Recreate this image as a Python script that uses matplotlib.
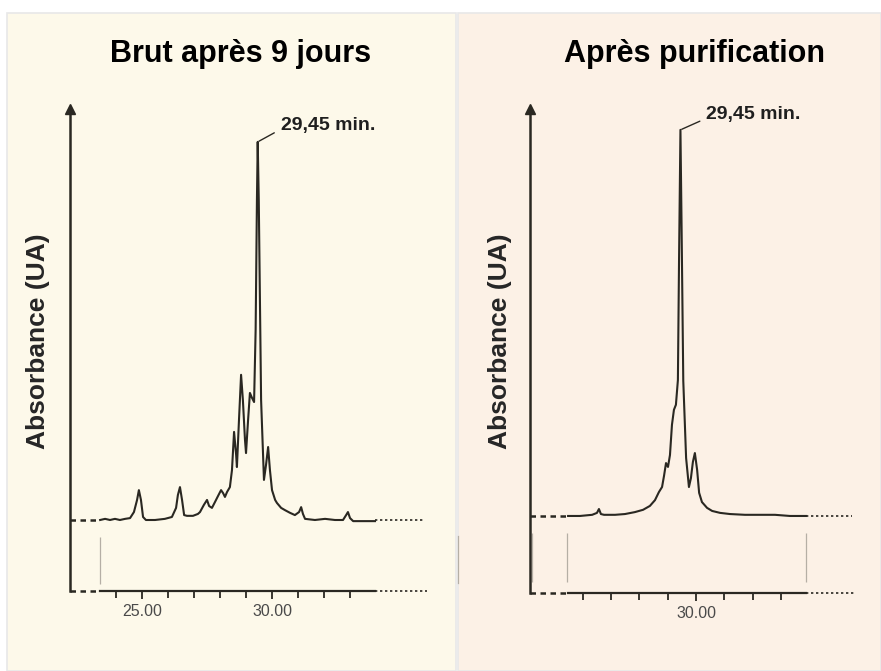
import matplotlib
matplotlib.use('Agg')
import matplotlib.pyplot as plt
from matplotlib.patches import Rectangle
from matplotlib.lines import Line2D

plt.rcParams['font.family'] = ['Liberation Sans', 'DejaVu Sans']

# crude product after 9 days: retention time (min) / absorbance (normalised)
t_brut = [23.39, 23.58, 23.77, 23.96, 24.15, 24.35, 24.54, 24.69, 24.81, 24.88,
          24.96, 25.04, 25.15, 25.50, 25.88, 26.15, 26.31, 26.38, 26.46, 26.54,
          26.62, 26.73, 26.96, 27.15, 27.23, 27.38, 27.50, 27.58, 27.69, 27.81,
          27.92, 28.04, 28.12, 28.19, 28.27, 28.38, 28.46, 28.54, 28.62, 28.65,
          28.73, 28.81, 28.88, 28.96, 29.00, 29.08, 29.15, 29.23, 29.31, 29.37,
          29.42, 29.45, 29.49, 29.58, 29.69, 29.77, 29.85, 29.92, 30.00, 30.12,
          30.19, 30.35, 30.50, 30.69, 30.88, 31.04, 31.12, 31.19, 31.27, 31.65,
          32.04, 32.42, 32.73, 32.85, 32.92, 33.00, 33.12, 33.58, 33.96]
a_brut = [0.000, 0.003, 0.000, 0.003, 0.000, 0.003, 0.005, 0.021, 0.053, 0.079,
          0.053, 0.008, 0.000, 0.000, 0.003, 0.008, 0.032, 0.066, 0.087, 0.053,
          0.013, 0.011, 0.011, 0.016, 0.021, 0.040, 0.053, 0.037, 0.032, 0.048,
          0.063, 0.079, 0.071, 0.061, 0.074, 0.087, 0.132, 0.233, 0.172, 0.140,
          0.265, 0.384, 0.317, 0.212, 0.177, 0.265, 0.336, 0.323, 0.312, 0.503,
          0.847, 1.000, 0.847, 0.317, 0.106, 0.146, 0.193, 0.132, 0.079, 0.053,
          0.045, 0.032, 0.026, 0.019, 0.013, 0.021, 0.034, 0.016, 0.003, 0.000,
          0.003, 0.000, 0.000, 0.013, 0.021, 0.005, -0.003, -0.003, -0.003]

# purified product
t_pur = [25.48, 25.90, 26.33, 26.50, 26.57, 26.64, 26.75, 27.14, 27.49, 27.84,
         28.13, 28.37, 28.55, 28.69, 28.80, 28.87, 28.94, 29.01, 29.08, 29.15,
         29.22, 29.29, 29.36, 29.40, 29.45, 29.49, 29.55, 29.65, 29.75, 29.82,
         29.89, 29.96, 30.04, 30.11, 30.21, 30.39, 30.57, 30.85, 31.20, 31.73,
         32.26, 32.79, 33.32, 33.89]
a_pur = [0.000, 0.000, 0.003, 0.008, 0.018, 0.005, 0.003, 0.003, 0.005, 0.010,
         0.016, 0.026, 0.041, 0.062, 0.075, 0.104, 0.137, 0.127, 0.158, 0.236,
         0.275, 0.288, 0.352, 0.660, 1.000, 0.750, 0.350, 0.150, 0.075, 0.098,
         0.140, 0.163, 0.119, 0.060, 0.036, 0.021, 0.013, 0.008, 0.005, 0.003,
         0.003, 0.003, 0.000, 0.000]

titles = ['Brut après 9 jours', 'Après purification']
ylabel = 'Absorbance (UA)'
peak_time = 29.45
peak_label = '29,45 min.'
ticks_brut = [24, 25, 26, 27, 28, 29, 30, 31, 32, 33]
ticks_pur = [26, 27, 28, 29, 30, 31, 32, 33]
labelled_brut = [25, 30]
labelled_pur = [30]

W, H = 881, 671
ink = '#2a2822'
fig = plt.figure(figsize=(W / 100, H / 100), dpi=100)
fig.patch.set_facecolor('white')


def fx(x):
    return x / W


def fy(y):
    return 1 - y / H


# background panels
fig.add_artist(Rectangle((fx(7), 0), fx(456) - fx(7), fy(13), transform=fig.transFigure,
                         facecolor='#fdf9ea', edgecolor='#e8e8e8', lw=1.2, zorder=0))
fig.add_artist(Rectangle((fx(458), 0), 1 - fx(458), fy(13), transform=fig.transFigure,
                         facecolor='#fcf1e6', edgecolor='#e8e8e8', lw=1.2, zorder=0))
fig.add_artist(Line2D([fx(458), fx(458)], [fy(536), fy(583)], transform=fig.transFigure,
                      color='#b5afa5', lw=0.9))


def chromato(box, xlim, ylim, t, a, ticks, labelled, base_end, bot_end, marks, text_off):
    x0, x1, ytop, ybot = box
    ax = fig.add_axes([fx(x0), fy(ybot), fx(x1) - fx(x0), fy(ytop) - fy(ybot)])
    ax.set_facecolor('none')
    ax.set_xlim(xlim)
    ax.set_ylim(ylim)

    ax.plot(t, a, color=ink, lw=1.5, solid_joinstyle='round', clip_on=False)

    # axes: solid under the trace, dashed / dotted extensions
    for s in ['top', 'right']:
        ax.spines[s].set_visible(False)
    ax.spines['left'].set_linewidth(1.8)
    ax.spines['left'].set_color(ink)
    ax.spines['bottom'].set_linewidth(1.6)
    ax.spines['bottom'].set_color(ink)
    ax.spines['bottom'].set_bounds(t[0], t[-1])
    ax.plot([0], [1], marker='^', ms=7, color=ink, transform=ax.transAxes, clip_on=False)

    for y, end in [(0, base_end), (ylim[0], bot_end)]:
        ax.plot([xlim[0], t[0]], [y, y], color=ink, lw=1.8, dashes=(2.2, 1.8), clip_on=False)
        ax.plot([t[-1], end], [y, y], color=ink, lw=1.2, dashes=(1.4, 1.6), clip_on=False)

    ax.vlines(marks, -0.045, -0.17, color='#b5afa5', lw=0.9, clip_on=False)

    ax.set_xticks(labelled)
    ax.set_xticklabels(['%.2f' % v for v in labelled])
    ax.set_xticks([v for v in ticks if v not in labelled], minor=True)
    ax.tick_params(axis='x', which='both', direction='out', color=ink, width=1.3,
                   labelsize=11.5, labelcolor='#4a4a4a', pad=3)
    ax.tick_params(axis='x', which='major', length=6)
    ax.tick_params(axis='x', which='minor', length=5)
    ax.set_yticks([])

    ax.annotate(peak_label, xy=(peak_time, 1.0), xytext=text_off, textcoords='offset pixels',
                ha='left', va='center', fontsize=14, fontweight='bold', color='#1f1f1f',
                arrowprops=dict(arrowstyle='-', color=ink, lw=1.0, shrinkA=3, shrinkB=1,
                                relpos=(0, 0.3)))
    return ax


ax1 = chromato((70, 440, 109, 591), (22.231, 36.46), (-0.1878, 1.087), t_brut, a_brut,
               ticks_brut, labelled_brut, 35.88, 35.96, [23.385], (23, 16))
ax2 = chromato((530, 870, 109, 593), (24.134, 36.148), (-0.1995, 1.054), t_pur, a_pur,
               ticks_pur, labelled_pur, 35.51, 35.65, [24.205, 25.44, 33.89], (26, 15))

for x, title in zip([241, 695], titles):
    fig.text(fx(x), fy(62), title, ha='center', va='baseline', fontsize=22,
             fontweight='bold', color='black')
for x in [38, 500]:
    fig.text(fx(x), fy(341), ylabel, ha='center', va='center', rotation=90,
             fontsize=19, fontweight='bold', color='#262626')

fig.savefig('out.png', dpi=100)
